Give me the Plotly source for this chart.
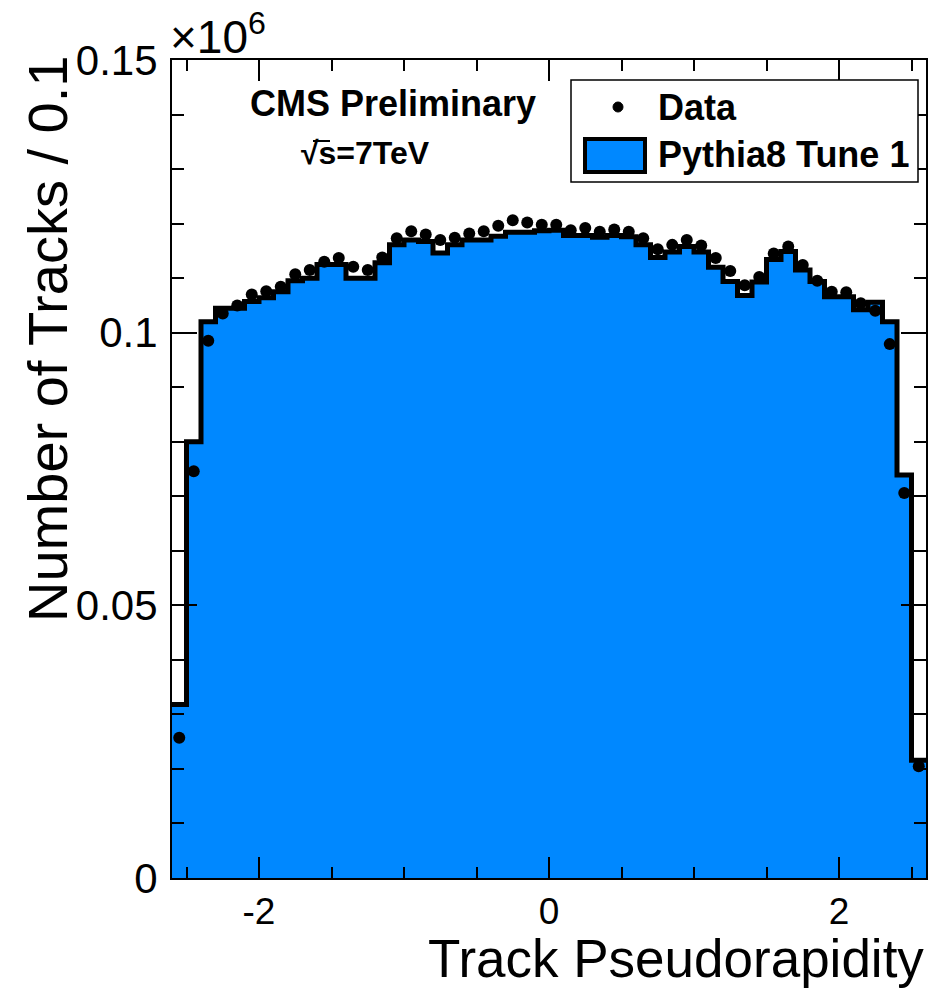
import plotly.graph_objects as go

# ---------------- data (values in units of 10^6 tracks per 0.1) ----------------
eta_min = -2.6
bin_width = 0.1

mc_pythia8 = [
    0.0318, 0.0800, 0.1020, 0.1045, 0.1045, 0.1057, 0.1064, 0.1075, 0.1095, 0.1100,
    0.1125, 0.1125, 0.1100, 0.1100, 0.1128, 0.1161, 0.1170, 0.1167, 0.1146, 0.1161,
    0.1170, 0.1170, 0.1177, 0.1184, 0.1184, 0.1187, 0.1188, 0.1178, 0.1178, 0.1175,
    0.1178, 0.1176, 0.1161, 0.1138, 0.1148, 0.1158, 0.1148, 0.1120, 0.1094, 0.1068,
    0.1093, 0.1134, 0.1149, 0.1115, 0.1094, 0.1066, 0.1066, 0.1042, 0.1056, 0.1020,
    0.0739, 0.0216,
]

data_counts = [
    0.0257, 0.0746, 0.0985, 0.1035, 0.1050, 0.1070, 0.1076, 0.1084, 0.1107, 0.1115,
    0.1130, 0.1137, 0.1121, 0.1115, 0.1138, 0.1173, 0.1186, 0.1180, 0.1170, 0.1174,
    0.1182, 0.1186, 0.1196, 0.1206, 0.1202, 0.1198, 0.1198, 0.1188, 0.1192, 0.1185,
    0.1189, 0.1185, 0.1173, 0.1153, 0.1161, 0.1170, 0.1160, 0.1137, 0.1113, 0.1087,
    0.1102, 0.1145, 0.1158, 0.1124, 0.1095, 0.1075, 0.1074, 0.1054, 0.1040, 0.0979,
    0.0706, 0.0205,
]

x_tick_vals = [-2, 0, 2]
x_tick_text = ["-2", "0", "2"]
y_tick_vals = [0, 0.05, 0.1, 0.15]
y_tick_text = ["0", "0.05", "0.1", "0.15"]

n_bins = len(mc_pythia8)
edges = [round(eta_min + i * bin_width, 3) for i in range(n_bins + 1)]
centers = [round(eta_min + (i + 0.5) * bin_width, 3) for i in range(n_bins)]

step_x = edges[:-1] + [edges[-1]]
step_y = mc_pythia8 + [mc_pythia8[-1]]

BLUE = "#0088ff"
FONT = "Liberation Sans, Arial, Helvetica, sans-serif"

fig = go.Figure()

# filled histogram
fig.add_trace(go.Scatter(
    x=step_x, y=step_y, mode="lines", line=dict(shape="hv", width=0, color=BLUE),
    fill="tozeroy", fillcolor=BLUE, hoverinfo="skip", showlegend=False,
))
# histogram outline
fig.add_trace(go.Scatter(
    x=step_x, y=step_y, mode="lines", line=dict(shape="hv", width=5, color="black"),
    name="Pythia8 Tune 1", showlegend=False,
))
# data points
fig.add_trace(go.Scatter(
    x=centers, y=data_counts, mode="markers",
    marker=dict(color="black", size=12, symbol="circle"),
    name="Data", showlegend=False, cliponaxis=False,
))

# ---------------- layout ----------------
W, H = 944, 992
PL, PR, PT, PB = 172, 926, 60, 878
PW, PH = PR - PL, PB - PT


def px(x):
    return (x - PL) / PW


def py(y):
    return (PB - y) / PH


fig.update_layout(
    width=W, height=H,
    margin=dict(l=PL, r=W - PR, t=PT, b=H - PB, pad=0),
    paper_bgcolor="white", plot_bgcolor="white",
    font=dict(family=FONT, color="black"),
    showlegend=False,
)

fig.update_xaxes(
    range=[-2.6, 2.6], showgrid=False, zeroline=False,
    showline=True, linecolor="black", linewidth=2, mirror="ticks",
    ticks="inside", ticklen=21, tickwidth=1.5, tickcolor="black",
    tickvals=x_tick_vals, ticktext=x_tick_text,
    tickfont=dict(size=37, family=FONT, color="black"),
    ticklabelstandoff=0,
    minor=dict(dtick=0.5, tick0=0, ticks="inside", ticklen=11, tickwidth=1.5,
               tickcolor="black", showgrid=False),
)
fig.update_yaxes(
    range=[0, 0.15], showgrid=False, zeroline=False,
    showline=True, linecolor="black", linewidth=2, mirror="ticks",
    ticks="inside", ticklen=25, tickwidth=1.5, tickcolor="black",
    tickvals=y_tick_vals, ticktext=y_tick_text,
    tickfont=dict(size=42, family=FONT, color="black"),
    ticklabelstandoff=4,
    minor=dict(dtick=0.01, tick0=0, ticks="inside", ticklen=12, tickwidth=1.5,
               tickcolor="black", showgrid=False),
)

annotations = [
    dict(text="×10<sup>6</sup>", x=px(168), y=py(34), xanchor="left", yanchor="middle",
         font=dict(size=46)),
    dict(text="<b>CMS Preliminary</b>", x=px(393), y=py(103), xanchor="center",
         yanchor="middle", font=dict(size=36)),
    dict(text="<b>√s=7TeV</b>", x=px(365), y=py(153), xanchor="center",
         yanchor="middle", font=dict(size=32)),
    dict(text="<b>Data</b>", x=px(656), y=py(107), xanchor="left", yanchor="middle",
         font=dict(size=36)),
    dict(text="<b>Pythia8 Tune 1</b>", x=px(656), y=py(155), xanchor="left",
         yanchor="middle", font=dict(size=36)),
    dict(text="Track Pseudorapidity", x=px(926), y=py(959), xanchor="right",
         yanchor="middle", font=dict(size=53)),
    dict(text="Number of Tracks / 0.1", x=px(47), y=py(54), xanchor="center",
         yanchor="top", textangle=-90, font=dict(size=56)),
]
for a in annotations:
    a.update(xref="paper", yref="paper", showarrow=False)
fig.update_layout(annotations=annotations)

shapes = [
    # legend box
    dict(type="rect", x0=px(571), x1=px(918), y0=py(182), y1=py(80),
         line=dict(color="black", width=1.5), fillcolor="white"),
    # data marker in legend
    dict(type="circle", x0=px(613), x1=px(623), y0=py(112), y1=py(102),
         line=dict(color="black", width=1), fillcolor="black"),
    # MC swatch in legend
    dict(type="rect", x0=px(585), x1=px(645), y0=py(172), y1=py(139),
         line=dict(color="black", width=4), fillcolor=BLUE),
    # overbar of the square root over "s"
    dict(type="line", x0=px(313), x1=px(330), y0=py(141), y1=py(141),
         line=dict(color="black", width=2)),
]
for s in shapes:
    s.update(xref="paper", yref="paper", layer="above")
fig.update_layout(shapes=shapes)

fig.write_html("out.html")
